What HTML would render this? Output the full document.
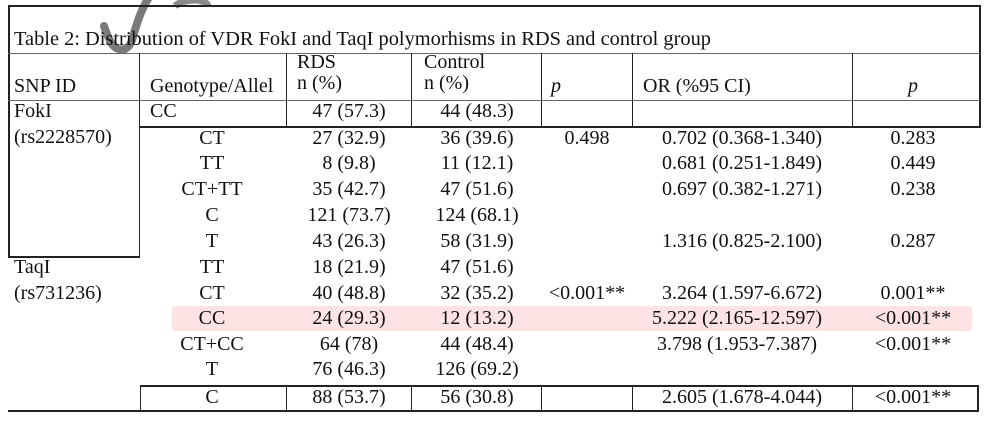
<!DOCTYPE html>
<html><head><meta charset="utf-8"><style>
body{margin:0;background:#fff;width:999px;height:428px;overflow:hidden;position:relative;font-family:"Liberation Serif",serif;font-size:20px;color:#111}
.t{position:absolute;white-space:nowrap;line-height:20px}
.c{transform:translateX(-50%)}
.h{position:absolute;background:#222;height:1px}
.v{position:absolute;background:#222;width:1px}
</style></head><body>
<div style="position:absolute;left:172px;top:306px;width:800px;height:25px;background:#fde3e3;border-radius:4px"></div>
<svg style="position:absolute;left:0;top:0" width="260" height="80"><path d="M150 -4 C140 10 135 30 132 40 C128 52 118 52 112 44 C108 38 106 32 104 26" stroke="#7a7a7a" stroke-width="8" fill="none" stroke-linecap="round"/><path d="M175 6 C185 -2 205 -2 208 6" stroke="#8a8a8a" stroke-width="7" fill="none"/></svg>
<div class="h" style="left:8px;top:5px;width:972px;height:2px"></div>
<div class="v" style="left:8px;top:5px;height:252px;width:2px"></div>
<div class="v" style="left:979px;top:5px;height:122px;width:2px"></div>
<div class="h" style="left:8px;top:53px;width:972px;background:#666"></div>
<div class="h" style="left:8px;top:100px;width:972px;background:#666"></div>
<div class="h" style="left:139px;top:126px;width:842px;height:2px"></div>
<div class="v" style="left:139px;top:53px;height:204px"></div>
<div class="v" style="left:286px;top:53px;height:74px"></div>
<div class="v" style="left:411px;top:53px;height:74px"></div>
<div class="v" style="left:541px;top:53px;height:74px"></div>
<div class="v" style="left:632px;top:53px;height:74px"></div>
<div class="v" style="left:852px;top:53px;height:74px"></div>
<div class="h" style="left:8px;top:256px;width:132px;height:2px"></div>
<div class="h" style="left:140px;top:385px;width:839px;height:2px"></div>
<div class="h" style="left:8px;top:410px;width:971px;height:2px"></div>
<div class="v" style="left:140px;top:385px;height:26px"></div>
<div class="v" style="left:286px;top:385px;height:26px"></div>
<div class="v" style="left:411px;top:385px;height:26px"></div>
<div class="v" style="left:541px;top:385px;height:26px"></div>
<div class="v" style="left:632px;top:385px;height:26px"></div>
<div class="v" style="left:852px;top:385px;height:26px"></div>
<div class="v" style="left:977px;top:385px;height:26px;width:2px"></div>

<div class="t" style="left:14px;top:29px;font-size:20.4px">Table 2: Distribution of VDR FokI and TaqI polymorhisms in RDS and control group</div>
<div class="t" style="left:14px;top:76px">SNP ID</div>
<div class="t" style="left:150px;top:76px">Genotype/Allel</div>
<div class="t" style="left:297px;top:52px">RDS</div>
<div class="t" style="left:297px;top:73px">n (%)</div>
<div class="t" style="left:424px;top:52px">Control</div>
<div class="t" style="left:424px;top:73px">n (%)</div>
<div class="t" style="left:551px;top:76px"><i>p</i></div>
<div class="t" style="left:643px;top:76px">OR (%95 CI)</div>
<div class="t c" style="left:913px;top:76px"><i>p</i></div>
<div class="t" style="left:14px;top:101px">FokI</div>
<div class="t" style="left:14px;top:127px">(rs2228570)</div>
<div class="t" style="left:14px;top:257px">TaqI</div>
<div class="t" style="left:14px;top:283px">(rs731236)</div>
<div class="t" style="left:150px;top:101px">CC</div>
<div class="t c" style="left:349px;top:101px">47 (57.3)</div>
<div class="t c" style="left:477px;top:101px">44 (48.3)</div>

<div class="t c" style="left:212px;top:128px">CT</div><div class="t c" style="left:349px;top:128px">27 (32.9)</div><div class="t c" style="left:477px;top:128px">36 (39.6)</div><div class="t c" style="left:587px;top:128px">0.498</div><div class="t c" style="left:742px;top:128px">0.702 (0.368-1.340)</div><div class="t c" style="left:913px;top:128px">0.283</div>
<div class="t c" style="left:212px;top:153px">TT</div><div class="t c" style="left:349px;top:153px">8 (9.8)</div><div class="t c" style="left:477px;top:153px">11 (12.1)</div><div class="t c" style="left:742px;top:153px">0.681 (0.251-1.849)</div><div class="t c" style="left:913px;top:153px">0.449</div>
<div class="t c" style="left:212px;top:179px">CT+TT</div><div class="t c" style="left:349px;top:179px">35 (42.7)</div><div class="t c" style="left:477px;top:179px">47 (51.6)</div><div class="t c" style="left:742px;top:179px">0.697 (0.382-1.271)</div><div class="t c" style="left:913px;top:179px">0.238</div>
<div class="t c" style="left:212px;top:205px">C</div><div class="t c" style="left:349px;top:205px">121 (73.7)</div><div class="t c" style="left:477px;top:205px">124 (68.1)</div>
<div class="t c" style="left:212px;top:231px">T</div><div class="t c" style="left:349px;top:231px">43 (26.3)</div><div class="t c" style="left:477px;top:231px">58 (31.9)</div><div class="t c" style="left:742px;top:231px">1.316 (0.825-2.100)</div><div class="t c" style="left:913px;top:231px">0.287</div>
<div class="t c" style="left:212px;top:257px">TT</div><div class="t c" style="left:349px;top:257px">18 (21.9)</div><div class="t c" style="left:477px;top:257px">47 (51.6)</div>
<div class="t c" style="left:212px;top:283px">CT</div><div class="t c" style="left:349px;top:283px">40 (48.8)</div><div class="t c" style="left:477px;top:283px">32 (35.2)</div><div class="t c" style="left:587px;top:283px">&lt;0.001**</div><div class="t c" style="left:742px;top:283px">3.264 (1.597-6.672)</div><div class="t c" style="left:913px;top:283px">0.001**</div>
<div class="t c" style="left:212px;top:308px">CC</div><div class="t c" style="left:349px;top:308px">24 (29.3)</div><div class="t c" style="left:477px;top:308px">12 (13.2)</div><div class="t c" style="left:737px;top:308px">5.222 (2.165-12.597)</div><div class="t c" style="left:913px;top:308px">&lt;0.001**</div>
<div class="t c" style="left:212px;top:334px">CT+CC</div><div class="t c" style="left:349px;top:334px">64 (78)</div><div class="t c" style="left:477px;top:334px">44 (48.4)</div><div class="t c" style="left:737px;top:334px">3.798 (1.953-7.387)</div><div class="t c" style="left:913px;top:334px">&lt;0.001**</div>
<div class="t c" style="left:212px;top:359px">T</div><div class="t c" style="left:349px;top:359px">76 (46.3)</div><div class="t c" style="left:477px;top:359px">126 (69.2)</div>
<div class="t c" style="left:212px;top:387px">C</div><div class="t c" style="left:349px;top:387px">88 (53.7)</div><div class="t c" style="left:477px;top:387px">56 (30.8)</div><div class="t c" style="left:742px;top:387px">2.605 (1.678-4.044)</div><div class="t c" style="left:913px;top:387px">&lt;0.001**</div>
</body></html>
